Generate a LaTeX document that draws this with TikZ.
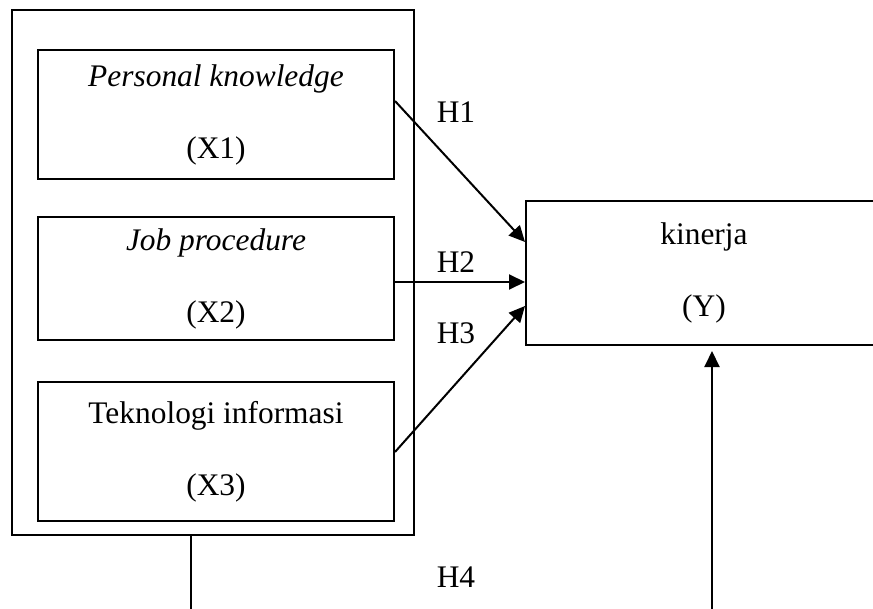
\documentclass[tikz,border=0pt]{standalone}
\usepackage{fontspec}
\setmainfont{Liberation Serif}
\usetikzlibrary{arrows.meta,calc}

\begin{document}
\begin{tikzpicture}[x=0.5pt,y=-0.5pt,>={Triangle[length=8pt,width=7.5pt]},
  varbox/.style={draw,line width=1pt,minimum width=178pt,align=center,
    font=\fontsize{15.7pt}{36pt}\selectfont},
  hlabel/.style={font=\fontsize{15.7pt}{18pt}\selectfont},
  conn/.style={->,line width=1pt}]
\useasboundingbox (0,0) rectangle (873,609);
\clip (0,0) rectangle (873,609);
% group of independent variables
\node[draw,line width=0.6pt,minimum width=201pt,minimum height=262.5pt] (grp) at (213,272.5) {};
\node[varbox,minimum height=64.5pt] (pk) at (216,114.5) {\textit{Personal knowledge}\\(X1)};
\node[varbox,minimum height=61.5pt] (jp) at (216,278.5) {\textit{Job procedure}\\(X2)};
\node[varbox,minimum height=69.5pt] (ti) at (216,451.5) {Teknologi informasi\\(X3)};
\node[varbox,minimum height=72pt] (kin) at (704,273) {kinerja\\(Y)};
% hypotheses
\coordinate (k1) at ($(kin.north west)+(0,42)$);
\coordinate (k2) at ($(kin.north west)+(0,82)$);
\coordinate (k3) at ($(kin.north west)+(0,106)$);
\draw[conn] ($(pk.north east)+(0,52)$) -- (k1);
\draw[conn] (jp.east |- k2) -- (k2);
\draw[conn] ($(ti.north east)+(0,71)$) -- (k3);
\coordinate (b1) at (191,609);
\coordinate (b2) at (712,609);
\draw[line width=0.6pt] (grp.south -| b1) -- (b1);
\draw[conn,shorten >=2.5pt] (b2) -- (kin.south -| b2);
\foreach \n/\y in {1/112,2/262,3/333,4/577}
  \node[hlabel] (h\n) at (456,\y) {H\n};
\end{tikzpicture}
\end{document}
